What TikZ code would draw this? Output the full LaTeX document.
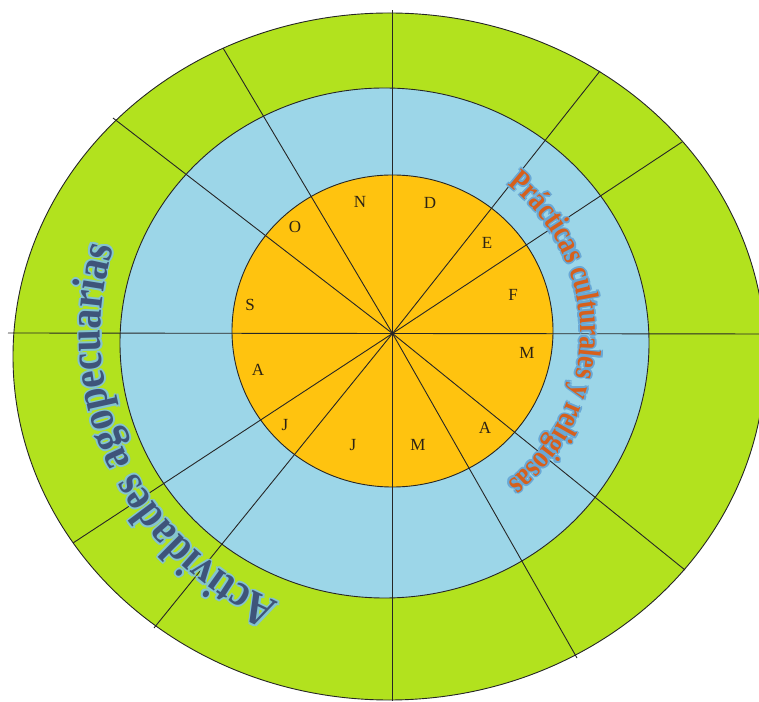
\documentclass[tikz,border=0pt]{standalone}
\usepackage{fontspec}
\setmainfont{Liberation Serif}
\newfontfamily\agroarc{Liberation Serif}[FakeStretch=0.86]
\newfontfamily\reliarc{Liberation Serif}[FakeStretch=0.8]
\usetikzlibrary{decorations.text}

\definecolor{ringgreen}{RGB}{178,226,30}
\definecolor{ringblue}{RGB}{156,214,232}
\definecolor{ringorange}{RGB}{255,195,15}
\definecolor{agrotext}{RGB}{62,84,122}
\definecolor{relitext}{RGB}{214,96,28}
\definecolor{agroglow}{RGB}{132,196,208}
\definecolor{religlow}{RGB}{104,168,214}
\definecolor{monthtext}{RGB}{45,35,20}

\newcommand\agrofont{\agroarc\bfseries\fontsize{46}{46}\selectfont}
\newcommand\relifont{\reliarc\bfseries\fontsize{32}{32}\selectfont}

\begin{document}
\begin{tikzpicture}[x=1pt,y=1pt,
  ring/.style={draw=black!85,line width=0.9pt},
  spoke/.style={black!85,line width=0.9pt},
  month/.style={font=\fontsize{17}{17}\selectfont,text=monthtext,inner sep=0pt},
  agro/.style={decorate,decoration={text along path,text align=center,
    text color=#1,text={|\agrofont|Actividades agopecuarias}}},
  reli/.style={decorate,decoration={text along path,text align=center,
    text color=#1,text={|\relifont|Prácticas culturales y religiosas}}}]
  \useasboundingbox (0,0) rectangle (759,701);
  \clip (0,0) rectangle (759,701);
  % the three rings
  \filldraw[ring,fill=ringgreen] (389.2,344.5) ellipse [x radius=376.2,y radius=343.5];
  \filldraw[ring,fill=ringblue] (384.5,358) ellipse [x radius=264.5,y radius=255];
  \filldraw[ring,fill=ringorange] (392.5,370) ellipse [x radius=160.5,y radius=156];
  % spokes from the middle
  \coordinate (c) at (392.5,367.5);
  \foreach \n/\x/\y in {p0/770/367,p33/682/559,p52/600/630,p90/392.5/691,
      p121/223/653,p142/113/583,p180/8/368,p213/73/158,p231/154/73,
      p270/392.5/0,p300/577/43,p321/685/131}
    {\coordinate (\n) at (\x,\y);
     \draw[spoke] (c) -- (\n);}
  % months
  \foreach \n/\t/\x/\y in {mN/N/360/499,mD/D/430/498,mO/O/295/474,mE/E/487/458,
      mS/S/250/396,mF/F/513/406,mMar/M/527/348,mAug/A/258/331,mJul/J/285/276,
      mJun/J/353/256,mMay/M/418/256,mApr/A/485/273}
    \node[month] (\n) at (\x,\y) {\t};
  % curved titles, soft glow first
  \foreach \dx/\dy in {1.8/0,-1.8/0,0/1.8,0/-1.8,1.3/1.3,-1.3/1.3,1.3/-1.3,-1.3/-1.3}
    {\path[agro=agroglow,opacity=0.45]
       ([shift={(258:292)},shift={(\dx,\dy)}]c) arc[start angle=258,end angle=152,radius=292];
     \path[reli=religlow,opacity=0.45]
       ([shift={(62:188)},shift={(\dx,\dy)}]c) arc[start angle=62,end angle=-62,radius=188];}
  \path[agro=agrotext] ([shift={(258:292)}]c) arc[start angle=258,end angle=152,radius=292];
  \path[reli=relitext] ([shift={(62:188)}]c) arc[start angle=62,end angle=-62,radius=188];
\end{tikzpicture}
\end{document}
